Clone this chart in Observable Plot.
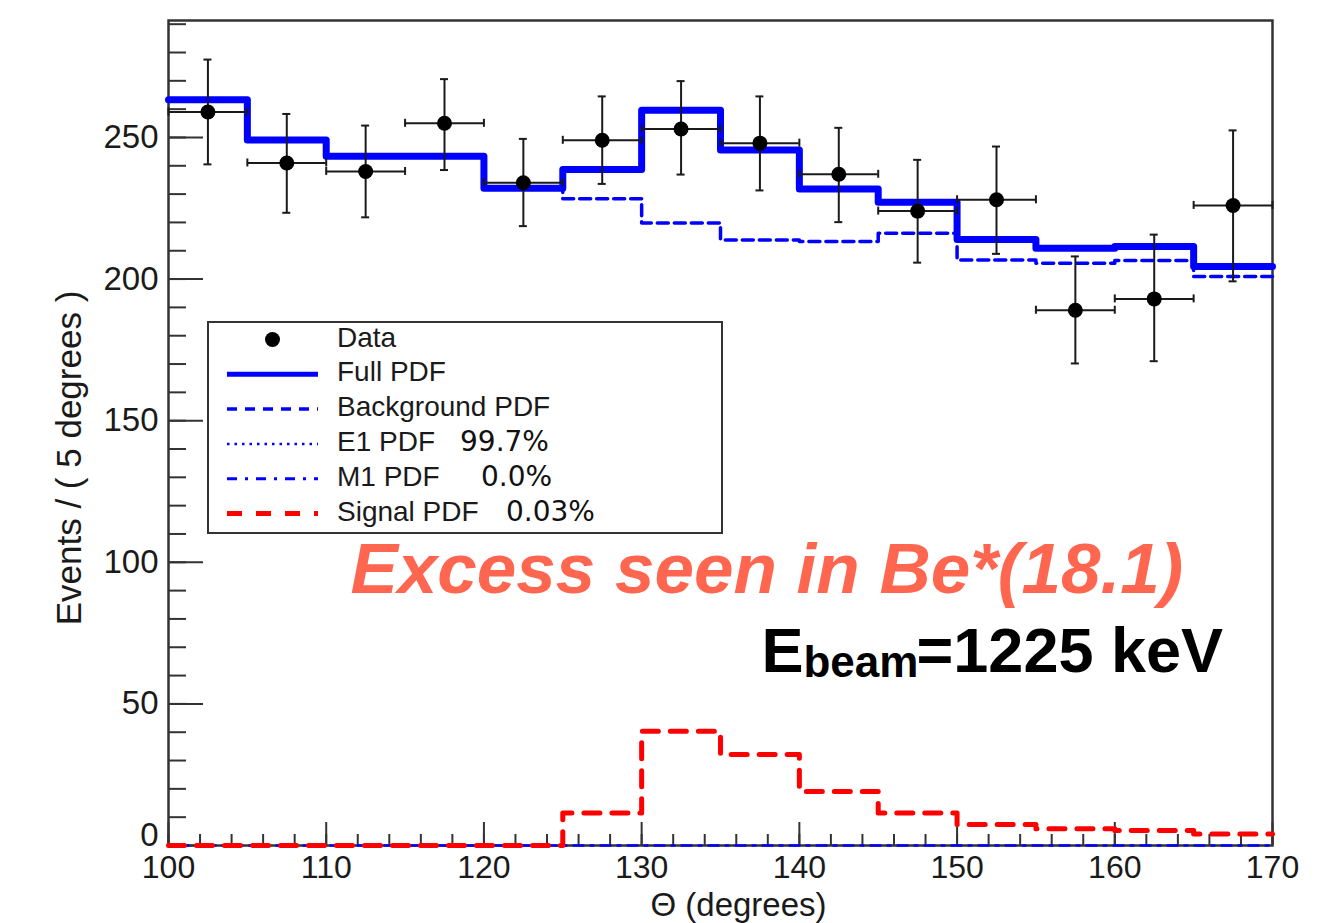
<!DOCTYPE html>
<html>
<head>
<meta charset="utf-8">
<script src="https://cdn.jsdelivr.net/npm/d3@7"></script>
<script src="https://cdn.jsdelivr.net/npm/@observablehq/plot@0.6"></script>
<style>
  html, body { margin: 0; padding: 0; background: #fff; }
  #chart svg { display: block; }
</style>
</head>
<body>
<div id="chart"></div>
<script>
// Bin centres of the 5-degree angular bins (degrees)
const theta = [102.5, 107.5, 112.5, 117.5, 122.5, 127.5, 132.5, 137.5, 142.5, 147.5, 152.5, 157.5, 162.5, 167.5];
const binWidth = 5;

// Measured counts per bin with their lower / upper uncertainties
const counts  = [259, 241, 238, 255, 234, 249, 253, 248, 237, 224, 228, 189, 193, 226];
const errUp   = [18.5, 17.3, 16.2, 15.6, 15.5, 15.5, 16.9, 16.5, 16.4, 18.1, 18.8, 19.0, 22.7, 26.5];
const errDown = [18.5, 17.6, 16.2, 16.5, 15.3, 15.4, 16.1, 16.7, 16.9, 18.2, 19.1, 18.8, 22.0, 26.8];

// Fitted PDF components per bin
const fullPdf       = [263.3, 249.1, 243.4, 243.4, 232.1, 238.7, 259.6, 245.6, 231.8, 227.1, 214.0, 210.9, 211.5, 204.4];
const backgroundPdf = [263.3, 249.1, 243.4, 243.4, 232.1, 228.4, 219.8, 213.8, 213.3, 216.2, 206.7, 205.6, 206.6, 200.9];
const m1Pdf         = [0, 0, 0, 0, 0, 0, 0, 0, 0, 0, 0, 0, 0, 0];
const signalPdf     = [0, 0, 0, 0, 0, 11.5, 40.3, 32.1, 19.1, 11.5, 7.4, 5.9, 5.3, 4.1];

// Axis ticks
const xMajor = [100, 110, 120, 130, 140, 150, 160, 170];
const xMinor = d3.range(100, 171, 2);
const yLabelled = [50, 100, 150, 200, 250];
const yMajor = [0, 50, 100, 150, 200, 250];
const yMinor = d3.range(0, 291, 10);

// Texts
const xTitle = "\u0398 (degrees)";
const yTitle = "Events / ( 5 degrees )";
const excessLabel = "Excess seen in Be*(18.1)";
const beamParts = ["E", "beam", "=1225 keV"];
const legendLabels = ["Data", "Full PDF", "Background PDF", "E1 PDF", "M1 PDF", "Signal PDF"];
const legendFractions = ["", "", "", "99.7%", "0.0%", "0.03%"];

// Histogram outline: one point per bin edge, drawn as a step curve
function steps(values) {
  const pts = values.map((v, i) => ({x: theta[i] - binWidth / 2, y: v}));
  pts.push({x: theta[theta.length - 1] + binWidth / 2, y: values[values.length - 1]});
  return pts;
}

const points = theta.map((t, i) => ({
  t, n: counts[i], lo: counts[i] - errDown[i], hi: counts[i] + errUp[i],
  x1: t - binWidth / 2, x2: t + binWidth / 2
}));

const W = 1332, H = 923;
const mL = 168, mR = 60, mT = 20, mB = 78;

const blue = "#0000ff", red = "#ff0000", ink = "#1a1a1a", tickInk = "#333";

const chart = Plot.plot({
  width: W,
  height: H,
  marginLeft: mL,
  marginRight: mR,
  marginTop: mT,
  marginBottom: mB,
  style: {fontFamily: "'Liberation Sans', Arial, Helvetica, sans-serif", background: "#fff", color: ink},
  x: {domain: [100, 170]},
  y: {domain: [0, 291.3]},
  marks: [
    Plot.frame({stroke: "#333", strokeWidth: 2.5}),

    // inward-pointing ticks along the left and bottom edges
    Plot.ruleY(yMinor, {y: d => d, x1: 100, x2: 100, insetRight: -18, stroke: tickInk, strokeWidth: 2}),
    Plot.ruleY(yMajor, {y: d => d, x1: 100, x2: 100, insetRight: -35, stroke: tickInk, strokeWidth: 2}),
    Plot.ruleX(xMinor, {x: d => d, y1: 0, y2: 0, insetTop: -11, stroke: tickInk, strokeWidth: 2}),
    Plot.ruleX(xMajor, {x: d => d, y1: 0, y2: 0, insetTop: -23, stroke: tickInk, strokeWidth: 2}),
    Plot.axisX({ticks: xMajor, tickSize: 0, tickPadding: 10, fontSize: 32, label: null}),
    Plot.axisY({ticks: yLabelled, tickSize: 0, tickPadding: 10, fontSize: 33, label: null}),
    Plot.axisY({ticks: [0], tickSize: 0, tickPadding: 10, dy: -10, fontSize: 33, label: null}),

    // PDF components
    Plot.lineY(steps(m1Pdf), {x: "x", y: "y", curve: "step-after", stroke: blue, strokeWidth: 2.5, strokeDasharray: "10,7,3,7"}),
    Plot.lineY(steps(signalPdf), {x: "x", y: "y", curve: "step-after", stroke: red, strokeWidth: 5, strokeDasharray: "16,12"}),
    Plot.lineY(steps(backgroundPdf), {x: "x", y: "y", curve: "step-after", stroke: blue, strokeWidth: 3.5, strokeDasharray: "11,6"}),
    Plot.lineY(steps(fullPdf), {x: "x", y: "y", curve: "step-after", stroke: blue, strokeWidth: 7}),

    // data with error bars
    Plot.ruleX(points, {x: "t", y1: "lo", y2: "hi", stroke: ink, strokeWidth: 2}),
    Plot.ruleY(points, {y: "n", x1: "x1", x2: "x2", stroke: ink, strokeWidth: 2}),
    Plot.ruleY(points, {y: "hi", x1: "t", x2: "t", insetLeft: -4, insetRight: -4, stroke: ink, strokeWidth: 2}),
    Plot.ruleY(points, {y: "lo", x1: "t", x2: "t", insetLeft: -4, insetRight: -4, stroke: ink, strokeWidth: 2}),
    Plot.ruleX(points, {x: "x1", y1: "n", y2: "n", insetTop: -4, insetBottom: -4, stroke: ink, strokeWidth: 2}),
    Plot.ruleX(points, {x: "x2", y1: "n", y2: "n", insetTop: -4, insetBottom: -4, stroke: ink, strokeWidth: 2}),
    Plot.dot(points, {x: "t", y: "n", r: 7.5, fill: "#000", stroke: "none"}),

    // axis titles
    Plot.text([yTitle], {frameAnchor: "left", rotate: -90, dx: -88, dy: 25, lineAnchor: "bottom", textAnchor: "middle", fontSize: 35, fill: ink}),
    Plot.text([xTitle], {frameAnchor: "bottom", dx: 18, dy: 70, lineAnchor: "bottom", textAnchor: "middle", fontSize: 33, fill: ink}),

    // annotations
    Plot.text([excessLabel], {x: 111.54, y: 88.98, textAnchor: "start", lineAnchor: "bottom", fontSize: 71, fontWeight: "bold", fontStyle: "italic", fill: "#ff6650"}),
    Plot.text([beamParts[0]], {x: 137.60, y: 61.09, textAnchor: "start", lineAnchor: "bottom", fontSize: 63, fontWeight: "bold", fill: "#000"}),
    Plot.text([beamParts[1]], {x: 140.26, y: 59.32, textAnchor: "start", lineAnchor: "bottom", fontSize: 44, fontWeight: "bold", fill: "#000"}),
    Plot.text([beamParts[2]], {x: 147.43, y: 61.09, textAnchor: "start", lineAnchor: "bottom", fontSize: 63, fontWeight: "bold", fill: "#000"})
  ]
});

// Legend box inside the frame
const svg = d3.select(chart);
const lg = svg.append("g").attr("class", "legend").attr("text-anchor", "start");
lg.append("rect")
  .attr("x", 208).attr("y", 322).attr("width", 514).attr("height", 211)
  .attr("fill", "#fff").attr("stroke", "#333").attr("stroke-width", 2);

const rowStyles = [
  {kind: "dot"},
  {stroke: blue, width: 5, dash: null},
  {stroke: blue, width: 3.5, dash: "10,8"},
  {stroke: blue, width: 2.5, dash: "2.5,5"},
  {stroke: blue, width: 3, dash: "10,8,3,8"},
  {stroke: red, width: 5, dash: "15,14"}
];
const fracX = [0, 0, 0, 460, 481, 506];

legendLabels.forEach((label, i) => {
  const base = 346.5 + 34.8 * i;
  const cy = base - 7;
  const st = rowStyles[i];
  if (st.kind === "dot") {
    lg.append("circle").attr("cx", 272.5).attr("cy", cy).attr("r", 7.5).attr("fill", "#000");
  } else {
    const ln = lg.append("line")
      .attr("x1", 227).attr("x2", 318).attr("y1", cy).attr("y2", cy)
      .attr("stroke", st.stroke).attr("stroke-width", st.width);
    if (st.dash) ln.attr("stroke-dasharray", st.dash);
  }
  lg.append("text")
    .attr("x", 337).attr("y", base)
    .attr("text-anchor", "start")
    .attr("font-family", "'Liberation Sans', Arial, sans-serif")
    .attr("font-size", 28).attr("fill", ink)
    .text(label);
  if (legendFractions[i]) {
    lg.append("text")
      .attr("x", fracX[i]).attr("y", base)
      .attr("text-anchor", "start")
      .attr("font-family", "'DejaVu Sans', sans-serif")
      .attr("font-size", 28).attr("fill", "#111")
      .text(legendFractions[i]);
  }
});

document.getElementById("chart").appendChild(chart);
</script>
</body>
</html>
